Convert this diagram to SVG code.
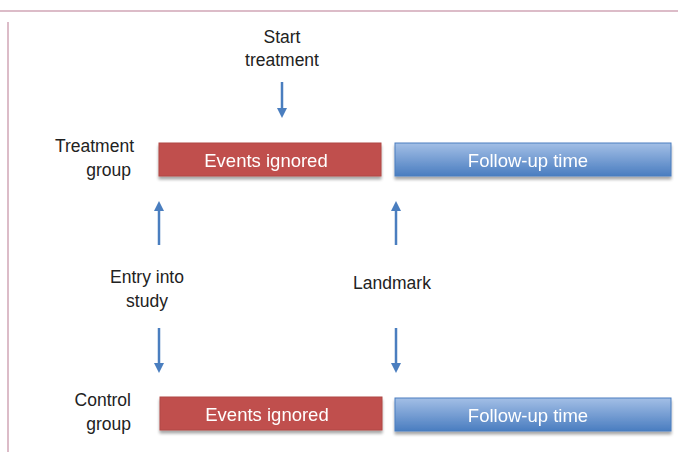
<svg xmlns="http://www.w3.org/2000/svg" width="678" height="457" viewBox="0 0 678 457">
<defs>
<linearGradient id="blue" x1="0" y1="0" x2="0" y2="1">
<stop offset="0" stop-color="#a3bfe6"/>
<stop offset="1" stop-color="#4a7dc0"/>
</linearGradient>
<filter id="sh" x="-5%" y="-20%" width="110%" height="160%">
<feGaussianBlur in="SourceAlpha" stdDeviation="1.5"/>
<feOffset dx="0" dy="3"/>
<feComponentTransfer><feFuncA type="linear" slope="0.35"/></feComponentTransfer>
<feMerge><feMergeNode/><feMergeNode in="SourceGraphic"/></feMerge>
</filter>
<marker id="ah" viewBox="0 0 10 10" refX="5" refY="5" markerWidth="4" markerHeight="4" orient="auto">
<path d="M0,0 L10,5 L0,10 z" fill="#4a7ebf"/>
</marker>
</defs>
<style>
.lbl{font-family:"Liberation Sans",Arial,sans-serif;font-size:17.5px;fill:#222}
.box{font-family:"Liberation Sans",Arial,sans-serif;font-size:18.5px;fill:#fff;text-anchor:middle}
.red{fill:#c0504d;stroke:#b04744;stroke-width:1}
.blu{fill:url(#blue);stroke:#4a7ebf;stroke-width:1}
.arr{stroke:#4a7ebf;stroke-width:2.5;fill:none;marker-end:url(#ah)}
.frame{stroke:#dcbcc8;stroke-width:2;fill:none}
</style>
<rect width="678" height="457" fill="#fff"/>
<line class="frame" x1="0" y1="11" x2="678" y2="11"/>
<line class="frame" x1="8" y1="22" x2="8" y2="452"/>

<g id="start-label"><text class="lbl" text-anchor="middle" x="282" y="43">Start</text><text class="lbl" text-anchor="middle" x="282" y="66">treatment</text></g>
<g id="treatment-label"><text class="lbl" text-anchor="end" x="134" y="152">Treatment</text><text class="lbl" text-anchor="end" x="131" y="176">group</text></g>
<g id="control-label"><text class="lbl" text-anchor="end" x="131" y="406">Control</text><text class="lbl" text-anchor="end" x="131" y="430">group</text></g>
<g id="entry-label"><text class="lbl" text-anchor="middle" x="147" y="283">Entry into</text><text class="lbl" text-anchor="middle" x="147" y="307">study</text></g>
<g id="landmark-label"><text class="lbl" text-anchor="middle" x="392" y="289">Landmark</text></g>

<g id="treat-events" filter="url(#sh)"><rect class="red" x="159" y="143" width="222" height="33"/><text class="box" x="266" y="167">Events ignored</text></g>
<g id="treat-follow" filter="url(#sh)"><rect class="blu" x="395" y="143" width="276" height="33"/><text class="box" x="528" y="167">Follow-up time</text></g>
<g id="ctrl-events" filter="url(#sh)"><rect class="red" x="160" y="397" width="222" height="33"/><text class="box" x="267" y="421">Events ignored</text></g>
<g id="ctrl-follow" filter="url(#sh)"><rect class="blu" x="395" y="398" width="276" height="33"/><text class="box" x="528" y="422">Follow-up time</text></g>

<g id="connectors">
<line class="arr" x1="282" y1="82" x2="282" y2="113"/>
<line class="arr" x1="159" y1="245" x2="159" y2="206"/>
<line class="arr" x1="396" y1="245" x2="396" y2="206"/>
<line class="arr" x1="159" y1="328" x2="159" y2="368"/>
<line class="arr" x1="396" y1="328" x2="396" y2="368"/>
</g>
</svg>
